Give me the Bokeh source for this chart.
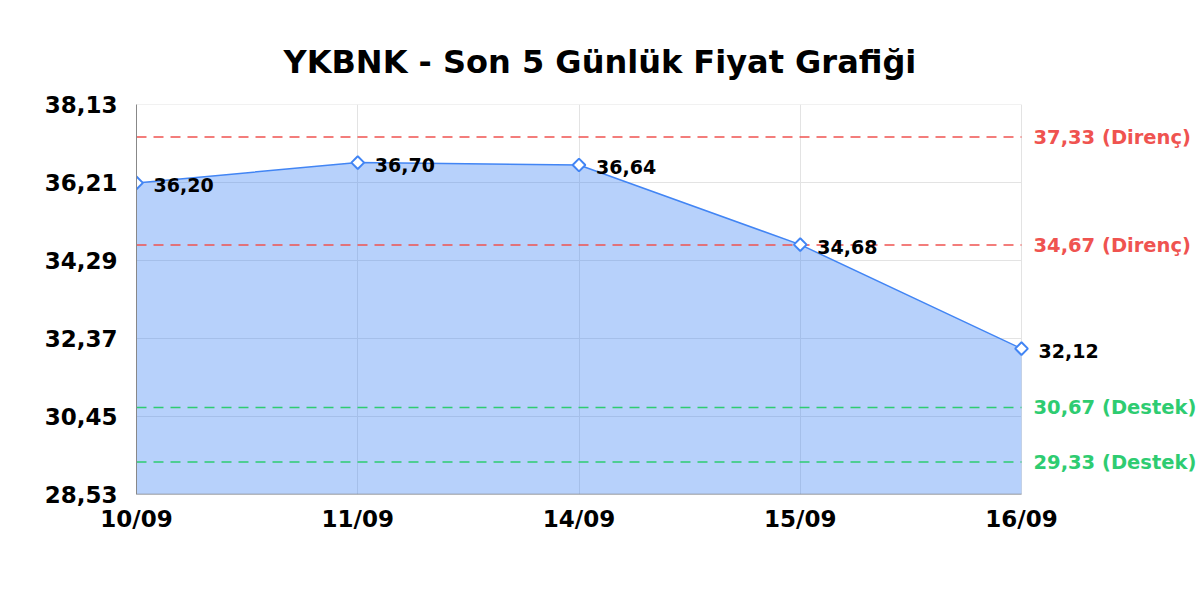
import math
from bokeh.plotting import figure
from bokeh.models import ColumnDataSource, Label, LabelSet, FixedTicker
from bokeh.core.properties import value
from bokeh.embed import file_html
from bokeh.resources import INLINE

title_text = "YKBNK - Son 5 Günlük Fiyat Grafiği"
dates = ["10/09", "11/09", "14/09", "15/09", "16/09"]
prices = [36.20, 36.70, 36.64, 34.68, 32.12]
resistances = [37.33, 34.67]
supports = [30.67, 29.33]
y_ticks = [28.53, 30.45, 32.37, 34.29, 36.21, 38.13]

FONT = "DejaVu Sans"
BLUE = "#4285f4"
RED = "#ef5350"
GREEN = "#2ecc71"
GRID = "#e3e3e3"

W, H = 1200, 600
LEFT, TOP, BOTTOM, PLOT_RIGHT = 136, 104, 494, 1021


def fmt(v):
    return f"{v:.2f}".replace(".", ",")


xs = list(range(len(dates)))
x0, x1 = xs[0], xs[-1]
# the frame continues to the right edge so that the level labels are not clipped
x_end = x1 + (x1 - x0) * (W - PLOT_RIGHT) / (PLOT_RIGHT - LEFT)

src = ColumnDataSource(dict(
    x=xs, y=prices, base=[y_ticks[0]] * len(xs),
    lab=[fmt(v) for v in prices],
))

p = figure(width=W, height=H, output_backend="svg", toolbar_location=None,
           x_range=(x0, x_end), y_range=(y_ticks[0], y_ticks[-1]),
           min_border_left=LEFT, min_border_right=0, min_border_top=TOP,
           min_border_bottom=H - BOTTOM, title=title_text)

p.title.text_font = FONT
p.title.text_font_size = "32px"
p.title.text_font_style = "bold"
p.title.text_color = "black"
p.title.align = "left"
p.title.offset = 147
p.title.standoff = 48
p.outline_line_color = None
p.background_fill_color = "white"
p.border_fill_color = "white"

# grid
p.xgrid.ticker = FixedTicker(ticks=xs)
p.xgrid.grid_line_color = GRID
p.ygrid.grid_line_color = None
p.segment(x0=[x0] * len(y_ticks), y0=y_ticks, x1=[x1] * len(y_ticks), y1=y_ticks,
          line_color=GRID, line_width=1)

# axes
p.xaxis.ticker = FixedTicker(ticks=xs)
p.xaxis.major_label_overrides = {i: d for i, d in zip(xs, dates)}
p.yaxis.ticker = FixedTicker(ticks=y_ticks)
p.yaxis.major_label_overrides = {t: fmt(t) for t in y_ticks}
for ax in (p.xaxis, p.yaxis):
    ax.axis_line_color = "#888888"
    ax.major_tick_line_color = None
    ax.minor_tick_line_color = None
    ax.major_tick_out = 0
    ax.major_tick_in = 0
    ax.major_label_text_font = FONT
    ax.major_label_text_font_style = "bold"
    ax.major_label_text_font_size = "23px"
    ax.major_label_text_color = "black"
p.xaxis.axis_line_color = None
p.yaxis.major_label_standoff = 19
p.xaxis.major_label_standoff = 11

# area + line
p.varea(x="x", y1="base", y2="y", source=src, fill_color=BLUE, fill_alpha=0.38)
p.line(x="x", y="y", source=src, line_color=BLUE, line_width=1.5)

# bottom axis line, only as long as the data
p.segment(x0=[x0], y0=[y_ticks[0]], x1=[x1], y1=[y_ticks[0]],
          line_color="#888888", line_width=1.5)

# levels
for vals, color, word in ((resistances, RED, "Direnç"), (supports, GREEN, "Destek")):
    p.segment(x0=[x0] * len(vals), y0=vals, x1=[x1] * len(vals), y1=vals,
              line_color=color, line_dash="10 7", line_width=1.5)
    for v in vals:
        p.add_layout(Label(x=x1, y=v, x_offset=12, text=f"{fmt(v)} ({word})",
                           text_color=color, text_font=FONT, text_font_style="bold",
                           text_font_size="19.5px", text_baseline="middle"))

p.scatter(x="x", y="y", source=src, marker="square", size=9, angle=math.pi / 4,
          fill_color="white", line_color=BLUE, line_width=2)

p.add_layout(LabelSet(x="x", y="y", text="lab", source=src, x_offset=17,
                      y_offset=-2, text_font=value(FONT), text_font_style="bold",
                      text_font_size="19px", text_color="black",
                      text_baseline="middle"))

open("out.html", "w").write(file_html(p, INLINE))
